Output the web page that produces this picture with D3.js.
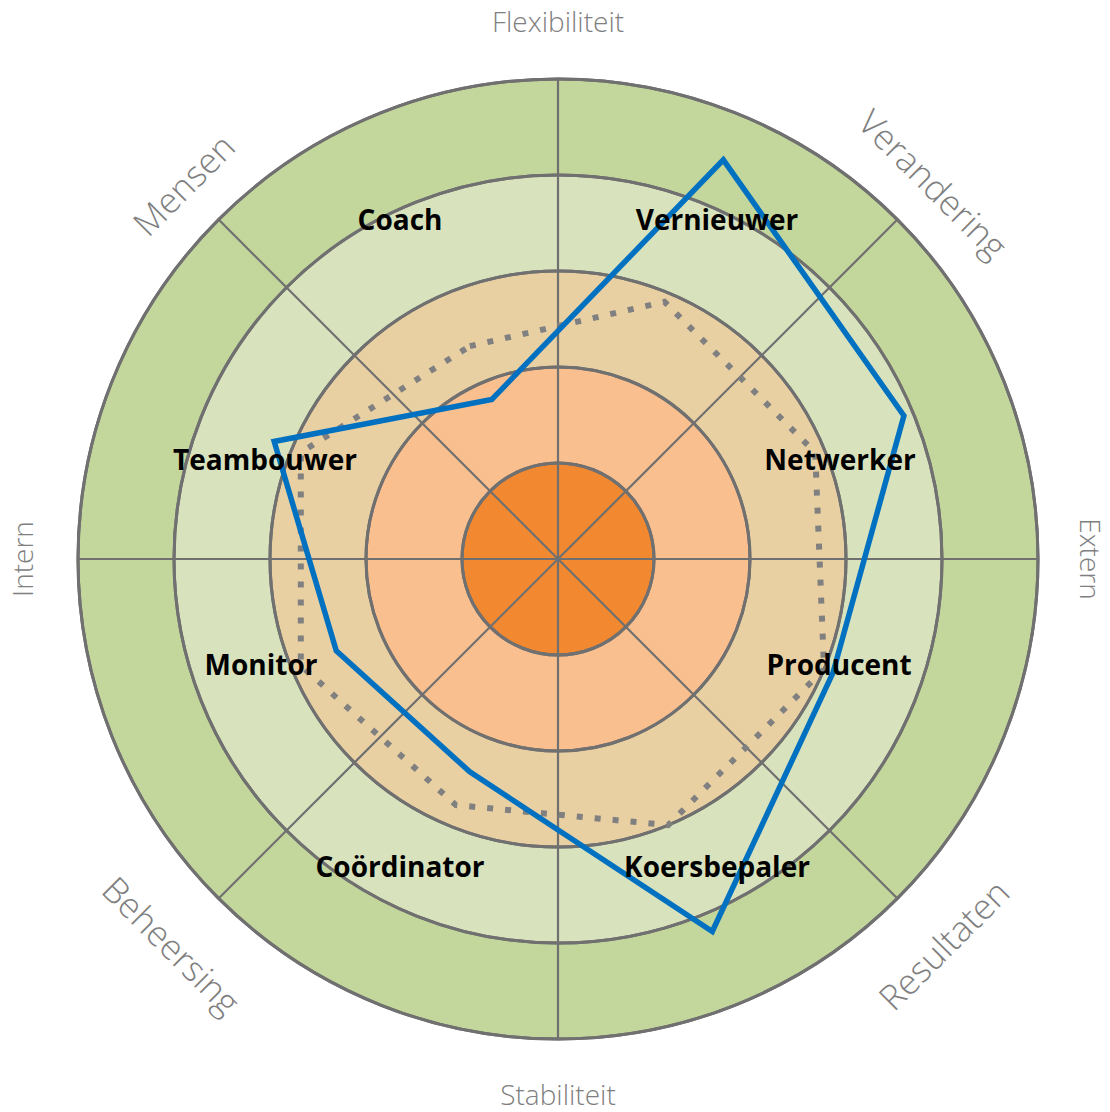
<!DOCTYPE html>
<html>
<head>
<meta charset="utf-8">
<script src="https://cdn.jsdelivr.net/npm/d3@7"></script>
<style>
  html, body { margin: 0; padding: 0; background: #ffffff; }
  svg { display: block; }
</style>
</head>
<body>
<svg id="chart" width="1110" height="1112"></svg>
<script>
// ---- data ----
const roles = ["Coach", "Vernieuwer", "Netwerker", "Producent", "Koersbepaler", "Coördinator", "Monitor", "Teambouwer"];
const scoreValues = [36, 90, 78, 62, 84, 48, 50, 64];      // blue line
const referenceValues = [48, 58, 58, 60, 60, 55.5, 58, 58]; // dotted line
const ringValues = [20, 40, 60, 80, 100];
const ringColors = ["#F28830", "#F9BF8F", "#E8D0A3", "#D8E3BE", "#C3D69B"];
const axisLabels = ["Flexibiliteit", "Verandering", "Extern", "Resultaten", "Stabiliteit", "Beheersing", "Intern", "Mensen"];

// ---- layout ----
const W = 1110, H = 1112;
const cx = 558, cy = 559;
const svg = d3.select("#chart");
const g = svg.append("g").attr("transform", `translate(${cx},${cy})`);

const r = d3.scaleLinear().domain([0, 100]).range([0, 480]);
// angle (radians, clockwise from north) for each role
const angle = d3.scaleLinear().domain([0, 1]).range([-Math.PI / 8, -Math.PI / 8 + Math.PI / 4]);
const grey = "#707070";

// rings (largest first)
const ringData = ringValues.map((v, i) => ({ v, c: ringColors[i] })).reverse();
g.selectAll("circle.ring").data(ringData).join("circle")
  .attr("class", "ring")
  .attr("r", d => r(d.v))
  .attr("fill", d => d.c)
  .attr("stroke", grey)
  .attr("stroke-width", 3);

// spokes every 45 degrees
const spokes = d3.range(8).map(i => i * Math.PI / 4);
g.selectAll("line.spoke").data(spokes).join("line")
  .attr("class", "spoke")
  .attr("x1", 0).attr("y1", 0)
  .attr("x2", a => r(100) * Math.sin(a))
  .attr("y2", a => -r(100) * Math.cos(a))
  .attr("stroke", grey)
  .attr("stroke-width", 2.2);

// redraw ring outlines above spokes
g.selectAll("circle.ringline").data(ringData).join("circle")
  .attr("class", "ringline")
  .attr("r", d => r(d.v))
  .attr("fill", "none")
  .attr("stroke", grey)
  .attr("stroke-width", 3);

const radial = d3.lineRadial()
  .angle((d, i) => angle(i))
  .radius(d => r(d))
  .curve(d3.curveLinearClosed);

// dotted reference polygon
g.append("path")
  .attr("d", radial(referenceValues))
  .attr("fill", "none")
  .attr("stroke", "#808080")
  .attr("stroke-width", 6)
  .attr("stroke-dasharray", "6,12");

// blue score polygon
g.append("path")
  .attr("d", radial(scoreValues))
  .attr("fill", "none")
  .attr("stroke", "#0070C0")
  .attr("stroke-width", 5.5)
  .attr("stroke-linejoin", "miter");

// role labels (offsets from centre, layout only)
const roleLabelOffset = [[-158, -329], [159, -329], [282, -89], [281, 116], [159, 318], [-158, 318], [-297, 116], [-293, -89]];
g.selectAll("text.role").data(roles).join("text")
  .attr("class", "role")
  .attr("x", (d, i) => roleLabelOffset[i][0])
  .attr("y", (d, i) => roleLabelOffset[i][1])
  .attr("text-anchor", "middle")
  .attr("font-family", "'Open Sans', 'Noto Sans', sans-serif")
  .attr("font-weight", 700)
  .attr("font-size", 28)
  .attr("fill", "#000000")
  .text(d => d);

// outer axis labels: [angle deg, distance, rotation, font-size]
const axisLayout = [
  [0, 538, 0, 28], [45, 531, 45, 35], [90, 533, 90, 28], [135, 545, -45, 35],
  [180, 535, 0, 28], [225, 546, 45, 35], [270, 536, -90, 28], [315, 530, -45, 35]
];
g.selectAll("text.axis").data(axisLabels).join("text")
  .attr("class", "axis")
  .attr("transform", (d, i) => {
    const [a, dist, rot] = axisLayout[i];
    const rad = a * Math.PI / 180;
    return `translate(${dist * Math.sin(rad)},${-dist * Math.cos(rad)}) rotate(${rot})`;
  })
  .attr("text-anchor", "middle")
  .attr("dominant-baseline", "central")
  .attr("font-family", "'Open Sans', 'Noto Sans', sans-serif")
  .attr("font-weight", 300)
  .attr("font-size", (d, i) => axisLayout[i][3])
  .attr("fill", "#7F7F7F")
  .text(d => d);
</script>
</body>
</html>
